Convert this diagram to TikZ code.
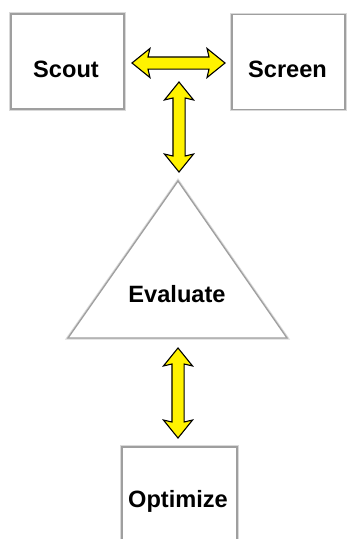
\documentclass[tikz,border=0pt]{standalone}
\usepackage{fontspec}
\setmainfont{Liberation Sans}
\usetikzlibrary{shapes.arrows}
\begin{document}
\begin{tikzpicture}[x=1pt,y=-1pt,
  box/.style={draw=gray!75, line width=1.3pt, preaction={draw=gray!30, line width=3.2pt}, fill=white, rectangle, inner sep=0pt},
  txt/.style={font=\bfseries\fontsize{23.6}{26}\selectfont, inner sep=0pt, anchor=base},
  dbl/.style={double arrow, draw=black, line width=1.1pt, fill=yellow, inner sep=0pt,
     text height=11pt, text depth=0pt, text width=0pt,
     minimum width=28pt, double arrow head extend=8.5pt, double arrow tip angle=78,
     double arrow head indent=2pt, minimum height=90pt},
  tri/.style={draw=gray!75, line width=1.3pt, preaction={draw=gray!30, line width=3.2pt}, fill=white, line join=miter}]
\useasboundingbox (0,0) rectangle (349,539);
\clip (0,0) rectangle (349,539);
\fill[white] (0,0) rectangle (349,539);
% boxes
\node[box, minimum width=113pt, minimum height=95pt] (scout) at (67.5,61.5) {};
\node[box, minimum width=113pt, minimum height=95pt] (screen) at (288.5,62) {};
\node[box, minimum width=115pt, minimum height=130pt] (optimize) at (179.5,512) {};
% triangle
\coordinate (apex) at (178,181);
\coordinate (bl) at (68,338);
\coordinate (br) at (287,338);
\draw[tri] (apex) -- (br) -- (bl) -- cycle;
% labels
\node[txt] (tscout) at (66,77) {Scout};
\node[txt] (tscreen) at (287.5,77) {Screen};
\node[txt] (teval) at (177,302) {Evaluate};
\node[txt] (topt) at (178,507) {Optimize};
% arrows
\node[dbl, minimum height=93pt] (harrow) at (178.5,63) {};
\node[dbl, rotate=90] (varrow1) at (179,127) {};
\node[dbl, rotate=90] (varrow2) at (178,393) {};
\end{tikzpicture}
\end{document}
